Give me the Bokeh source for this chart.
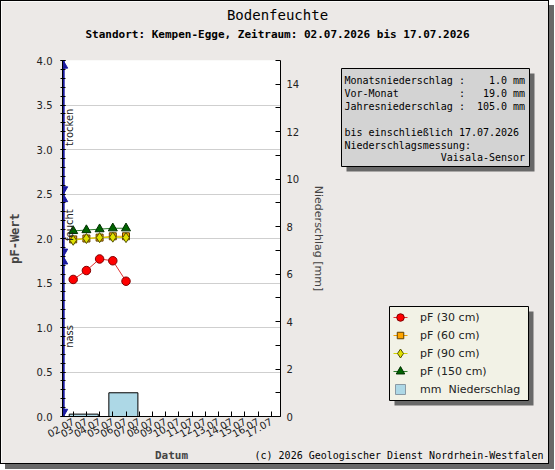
from bokeh.plotting import figure
from bokeh.models import Range1d, LinearAxis, FixedTicker, Legend, LegendItem
from bokeh.core.properties import value
from bokeh.embed import file_html
from bokeh.resources import INLINE
import math

# ---------------- data ----------------
date_labels = ["02.07", "03.07", "04.07", "05.07", "06.07", "07.07", "08.07", "09.07",
               "10.07", "11.07", "12.07", "13.07", "14.07", "15.07", "16.07", "17.07"]
pf_dates = ["02.07", "03.07", "04.07", "05.07", "06.07"]
pf_30 = [1.54, 1.64, 1.77, 1.75, 1.52]
pf_60 = [1.99, 2.00, 2.01, 2.025, 2.025]
pf_90 = [1.98, 2.00, 2.01, 2.015, 2.01]
pf_150 = [2.085, 2.095, 2.105, 2.115, 2.115]
rain_pos = [2.8, 5.8]
rain_mm = [0.1, 1.0]
zone_names = ["nass", "feucht", "trocken"]
zone_low = [0.0, 1.8, 2.5]
zone_high = [1.8, 2.5, 4.0]
pf_ticks = [0.0, 0.5, 1.0, 1.5, 2.0, 2.5, 3.0, 3.5, 4.0]
rain_ticks = [0, 2, 4, 6, 8, 10, 12, 14]
series_names = ["pF (30 cm)", "pF (60 cm)", "pF (90 cm)", "pF (150 cm)"]
rain_name = "mm  Niederschlag"
title_text = "Bodenfeuchte"
subtitle_text = "Standort: Kempen-Egge, Zeitraum: 02.07.2026 bis 17.07.2026"
copyright_text = "(c) 2026 Geologischer Dienst Nordrhein-Westfalen"
info_keys = ["Monatsniederschlag", "Vor-Monat", "Jahresniederschlag"]
info_vals = ["1.0 mm", "19.0 mm", "105.0 mm"]
info_note = ["bis einschließlich 17.07.2026", "Niederschlagsmessung:"]
info_sensor = "Vaisala-Sensor"

def day(s):
    return int(s.split(".")[0])

tick_days = [day(s) for s in date_labels]
pf_x = [day(s) for s in pf_dates]

# ---------------- styles ----------------
BG = "#ece9e7"
W, H = 549, 464
FL, FR, FT, FB = 61, 279, 59, 419
styles = [
    dict(line="#e03030", marker="circle", size=8.5, lsize=7.5, fill="#ff0000", edge="#800000"),
    dict(line="#f0a000", marker="square", size=7, lsize=6.5, fill="#ffa500", edge="#604000"),
    dict(line="#d0d000", marker="diamond", size=10, lsize=9, fill="#e0e000", edge="#505000"),
    dict(line="#2e7d2e", marker="triangle", size=9, lsize=8.5, fill="#006400", edge="#003000"),
]
RAIN_FILL = "#add8e6"

p = figure(width=W, height=H, x_range=Range1d(1.19, 17.7), y_range=Range1d(0, 4),
           output_backend="svg", toolbar_location=None,
           min_border_left=FL, min_border_right=W - FR, min_border_top=FT,
           min_border_bottom=H - FB, background_fill_color="white",
           border_fill_color=BG, outline_line_color=None)
p.styles = {"border": "1px solid black", "box-shadow": "5px 5px 0px 0px #686868"}
p.extra_y_ranges = {"rain": Range1d(0, 15)}

# bars
p.vbar(x=rain_pos, top=rain_mm, bottom=0, width=2.2, y_range_name="rain",
       fill_color=RAIN_FILL, line_color="black", line_width=1)

# grid
p.xgrid.visible = False
p.ygrid.ticker = FixedTicker(ticks=pf_ticks)
p.ygrid.grid_line_color = "#cfcfcf"

# series
for vals, st in zip([pf_30, pf_60, pf_90, pf_150], styles):
    p.line(pf_x, vals, line_color=st["line"], line_width=1)
    p.scatter(pf_x, vals, marker=st["marker"], size=st["size"], fill_color=st["fill"],
              line_color=st["edge"])

# zones on the left axis
zx = 1.28
ZC = "#1a1aa0"
p.segment(x0=[zx] * 3, y0=zone_low, x1=[zx] * 3, y1=zone_high, line_color=ZC, line_width=2)
p.scatter([zx] * 3, [h - 0.06 for h in zone_high], marker="triangle", size=8,
          fill_color=ZC, line_color=ZC)
p.scatter([zx] * 3, [l + 0.055 for l in zone_low], marker="inverted_triangle", size=8,
          fill_color=ZC, line_color=ZC)
p.text(x=[1.19] * 3, y=[(l + h) / 2 for l, h in zip(zone_low, zone_high)], text=zone_names,
       angle=math.pi / 2, text_align="center", text_baseline="top", x_offset=1,
       text_font=value("DejaVu Sans"), text_font_size="10px", text_color="#222222")

# axes
xa = p.xaxis[0]
xa.ticker = FixedTicker(ticks=tick_days)
xa.major_label_overrides = {d: s for d, s in zip(tick_days, date_labels)}
xa.major_label_orientation = 0.5
xa.major_tick_in = 5
xa.major_tick_out = 0
xa.minor_tick_line_color = None
xa.major_label_text_font = "DejaVu Sans"
xa.major_label_text_font_size = "10px"
xa.major_label_text_color = "#222222"
xa.major_label_standoff = 4
xa.axis_label = "Datum"
xa.axis_label_text_font = "DejaVu Sans Mono"
xa.axis_label_text_font_style = "bold"
xa.axis_label_text_font_size = "11px"
xa.axis_label_standoff = 5

ya = p.yaxis[0]
ya.ticker = FixedTicker(ticks=pf_ticks, minor_ticks=[i / 10 for i in range(41)])
ya.major_label_overrides = {t: "%.1f" % t for t in pf_ticks}
ya.major_tick_in = 3
ya.major_tick_out = 2
ya.minor_tick_in = 3
ya.minor_tick_out = 2
ya.major_label_standoff = 8
ya.major_label_text_font = "DejaVu Sans"
ya.major_label_text_font_size = "10px"
ya.major_label_text_color = "#222222"
ya.axis_label = "pF-Wert"
ya.axis_label_text_font = "DejaVu Sans Mono"
ya.axis_label_text_font_style = "bold"
ya.axis_label_text_font_size = "12px"
ya.axis_label_standoff = 12

ra = LinearAxis(y_range_name="rain",
                ticker=FixedTicker(ticks=rain_ticks, minor_ticks=[1, 3, 5, 7, 9, 11, 13, 15]))
ra.major_tick_in = 5
ra.major_tick_out = 0
ra.minor_tick_in = 5
ra.minor_tick_out = 0
ra.major_label_standoff = 6
ra.major_label_text_font = "DejaVu Sans"
ra.major_label_text_font_size = "10px"
ra.major_label_text_color = "#222222"
ra.axis_label = "Niederschlag [mm]"
ra.axis_label_text_font = "DejaVu Sans"
ra.axis_label_text_font_style = "normal"
ra.axis_label_text_font_size = "11px"
ra.axis_label_standoff = 10
p.add_layout(ra, "right")

# ---------------- overlay (page pixel coordinates) ----------------
OW, OH = 555, 470
o = figure(width=OW, height=OH, x_range=Range1d(0, OW), y_range=Range1d(OH, 0),
           output_backend="svg", toolbar_location=None, x_axis_type=None, y_axis_type=None,
           min_border=0, background_fill_alpha=0, border_fill_alpha=0,
           outline_line_color=None)
o.grid.visible = False
o.styles = {"position": "absolute", "left": "0px", "top": "0px", "pointer-events": "none"}

mono = value("DejaVu Sans Mono")
o.text(x=[277], y=[14], text=[title_text], text_align="center", text_baseline="middle",
       text_font=mono, text_font_size="14px", text_color="black")
o.text(x=[277], y=[34], text=[subtitle_text], text_align="center", text_baseline="middle",
       text_font=mono, text_font_style="bold", text_font_size="11px", text_color="black")
o.text(x=[543], y=[455], text=[copyright_text], text_align="right", text_baseline="middle",
       text_font=mono, text_font_size="10px", text_color="black")

# info box
o.quad(left=[346], right=[534], top=[73], bottom=[171], fill_color="#686868", line_color=None)
o.quad(left=[341], right=[529], top=[68], bottom=[166], fill_color="#d3d3d3",
       line_color="black", line_width=1)
CW = 6.02  # monospace character advance at 10px
LX, RX, LH, Y0 = 344, 344 + 30 * CW, 12.9, 80
ky = [Y0 + LH * i for i in range(len(info_keys))]
txt_kw = dict(text_baseline="middle", text_font=mono, text_font_size="10px", text_color="black")
o.text(x=[LX] * len(info_keys), y=ky, text=info_keys, text_align="left", **txt_kw)
o.text(x=[LX + 19 * CW] * len(info_keys), y=ky, text=[":"] * len(info_keys),
       text_align="left", **txt_kw)
o.text(x=[RX] * len(info_vals), y=ky, text=info_vals, text_align="right", **txt_kw)
ny = [Y0 + LH * (len(info_keys) + 1 + i) for i in range(len(info_note))]
o.text(x=[LX] * len(info_note), y=ny, text=info_note, text_align="left", **txt_kw)
o.text(x=[RX], y=[Y0 + LH * (len(info_keys) + 1 + len(info_note))], text=[info_sensor],
       text_align="right", **txt_kw)

# legend (box and symbols drawn as glyphs so that the markers keep their plot size)
LG_L, LG_T, LG_R, LG_B = 389, 306, 528, 400
PAD, GW, GH, SP = 4, 14, 14, 4
o.quad(left=[LG_L + 5], right=[LG_R + 5], top=[LG_T + 5], bottom=[LG_B + 5],
       fill_color="#686868", line_color=None)
o.quad(left=[LG_L], right=[LG_R], top=[LG_T], bottom=[LG_B], fill_color="#f2f2e6",
       line_color="black", line_width=1)
gx = LG_L + PAD + GW / 2
row_y = [LG_T + PAD + GH / 2 + (GH + SP) * i for i in range(len(series_names) + 1)]
items = []
OFF = [-100]
for i, (name, st) in enumerate(zip(series_names, styles)):
    o.segment(x0=[gx - GW / 2], y0=[row_y[i]], x1=[gx + GW / 2], y1=[row_y[i]],
              line_color=st["line"], line_width=1)
    o.scatter([gx], [row_y[i]], marker=st["marker"], size=st["lsize"],
              fill_color=st["fill"], line_color=st["edge"])
    dummy = o.line(OFF * 2, OFF * 2, line_alpha=0)
    items.append(LegendItem(label=name, renderers=[dummy]))
o.scatter([gx], [row_y[-1]], marker="square", size=10, fill_color=RAIN_FILL,
          line_color="#8a9aa4")
dummy = o.line(OFF * 2, OFF * 2, line_alpha=0)
items.append(LegendItem(label=rain_name, renderers=[dummy]))

legend = Legend(items=items, location=(LG_L, OH - LG_B))
legend.background_fill_alpha = 0
legend.border_line_alpha = 0
legend.label_text_font = "DejaVu Sans"
legend.label_text_font_size = "11px"
legend.label_text_color = "#222222"
legend.glyph_width = GW
legend.glyph_height = GH
legend.label_height = GH
legend.spacing = SP
legend.padding = PAD
legend.margin = 0
legend.label_standoff = 13
o.add_layout(legend, "center")

open("out.html", "w").write(file_html([p, o], INLINE))
